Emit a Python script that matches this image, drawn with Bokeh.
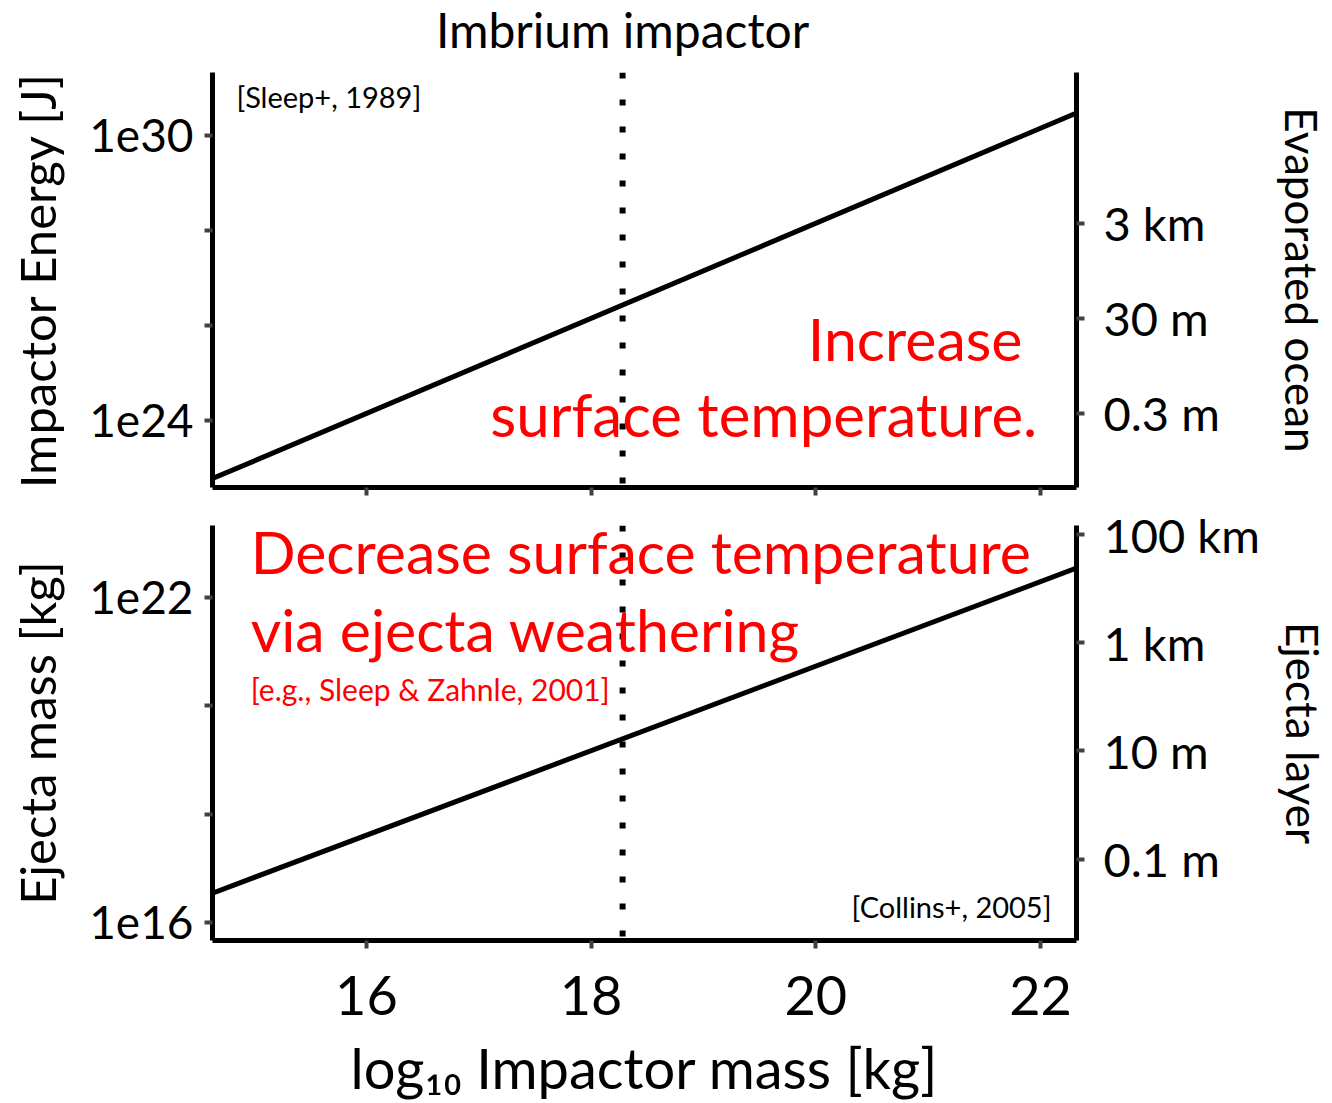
from bokeh.plotting import figure
from bokeh.layouts import column
from bokeh.models import (Range1d, LogAxis, LogScale, FixedTicker,
                          CustomJSTickFormatter, Label, Span)
from bokeh.embed import file_html
from bokeh.resources import INLINE

# ---- data ----
log_impactor_mass = [14.63, 22.32]          # log10 kg (line end points)
impactor_energy_J = [6.0e22, 3.0e30]        # Sleep+ 1989
ejecta_mass_kg = [3.5e16, 3.5e22]           # Collins+ 2005
imbrium_log_mass = 18.28

x_ticks = [16, 18, 20, 22]
energy_labelled = [1e24, 1e30]
energy_unlabelled = [1e26, 1e28]
ocean_ticks_m = [0.3, 30, 3000]
ejecta_labelled = [1e16, 1e22]
ejecta_unlabelled = [1e18, 1e20]
layer_ticks_m = [0.1, 10, 1000, 100000]

J_per_m_ocean = 10 ** 24.68     # energy per metre of evaporated ocean
kg_per_m_layer = 10 ** 18.17    # ejecta mass per metre of global layer

x_lim = (14.63, 22.32)
energy_lim = (10 ** 22.59, 10 ** 31.33)
ejecta_lim = (10 ** 15.67, 10 ** 23.33)

FONT = "Lato"
RED = "#ff0000"


def style_axis(ax, tick_size="46px", label_size="49px"):
    ax.axis_line_width = 5
    ax.axis_line_color = "black"
    for kind in ("major", "minor"):
        setattr(ax, kind + "_tick_line_color", "#404040")
        setattr(ax, kind + "_tick_line_width", 4)
        setattr(ax, kind + "_tick_out", 8)
        setattr(ax, kind + "_tick_in", 0)
    ax.major_label_text_font = FONT
    ax.major_label_text_font_size = tick_size
    ax.major_label_text_color = "black"
    ax.axis_label_text_font = FONT
    ax.axis_label_text_font_size = label_size
    ax.axis_label_text_font_style = "normal"
    ax.axis_label_text_color = "black"


exp_formatter = CustomJSTickFormatter(
    code="return '1e' + Math.round(Math.log10(tick));")
depth_formatter = CustomJSTickFormatter(
    code="return tick >= 1000 ? (tick / 1000) + ' km' : tick + ' m';")


def make_panel(y_lim, min_top, min_bottom, frame_h=415, log=True, axes=True):
    kw = dict(y_axis_type="log") if log else {}
    if not axes:
        kw.update(x_axis_location=None, y_axis_location=None)
    p = figure(frame_width=864, frame_height=frame_h,
               x_range=Range1d(*x_lim), y_range=Range1d(*y_lim),
               output_backend="svg", toolbar_location=None,
               min_border_left=212, min_border_right=256,
               min_border_top=min_top, min_border_bottom=min_bottom, **kw)
    p.outline_line_color = None
    p.grid.visible = False
    p.background_fill_color = "white"
    p.border_fill_color = "white"
    return p


# ---------------- title strip ----------------
pt = make_panel((0, 1), 0, 0, frame_h=72, log=False, axes=False)
pt.add_layout(Label(x=imbrium_log_mass, y=0.60, text="Imbrium impactor",
                    text_align="center", text_baseline="middle",
                    text_font=FONT, text_font_size="48px", text_color="black"))

# ---------------- top panel ----------------
p1 = make_panel(energy_lim, 0, 19)
p1.line(log_impactor_mass, impactor_energy_J, line_color="black", line_width=5)
ax = p1.xaxis[0]
ax.ticker = FixedTicker(ticks=[], minor_ticks=x_ticks)
style_axis(ax)
ay = p1.yaxis[0]
ay.ticker = FixedTicker(ticks=energy_labelled, minor_ticks=energy_unlabelled)
ay.formatter = exp_formatter
ay.axis_label = "Impactor Energy [J]"
style_axis(ay)
ay.major_label_standoff = 11
ay.axis_label_standoff = 20

p1.extra_y_ranges = {"ocean": Range1d(energy_lim[0] / J_per_m_ocean,
                                       energy_lim[1] / J_per_m_ocean)}
p1.extra_y_scales = {"ocean": LogScale()}
ar = LogAxis(y_range_name="ocean", ticker=FixedTicker(ticks=ocean_ticks_m),
             formatter=depth_formatter, axis_label="Evaporated ocean")
style_axis(ar, tick_size="47px", label_size="44px")
ar.major_label_standoff = 19
ar.axis_label_standoff = 53
p1.add_layout(ar, "right")

p1.add_layout(Span(location=imbrium_log_mass, dimension="height",
                   line_color="black", line_width=6, line_dash="6 21"))

p1.add_layout(Label(x=14.844, y=10 ** 30.82, text="[Sleep+, 1989]",
                    text_align="left", text_baseline="alphabetic",
                    text_font=FONT, text_font_size="29px", text_color="black"))
p1.add_layout(Label(x=19.929, y=10 ** 25.726, text="Increase",
                    text_align="left", text_baseline="alphabetic",
                    text_font=FONT, text_font_size="59px", text_color=RED))
p1.add_layout(Label(x=17.102, y=10 ** 24.147, text="surface temperature.",
                    text_align="left", text_baseline="alphabetic",
                    text_font=FONT, text_font_size="60px", text_color=RED))

# ---------------- bottom panel ----------------
p2 = make_panel(ejecta_lim, 19, 163)
p2.line(log_impactor_mass, ejecta_mass_kg, line_color="black", line_width=5)
bx = p2.xaxis[0]
bx.ticker = FixedTicker(ticks=x_ticks)
bx.axis_label = "log₁₀ Impactor mass [kg]"
style_axis(bx, tick_size="54px", label_size="56px")
bx.major_label_standoff = 27
bx.axis_label_standoff = 16
by = p2.yaxis[0]
by.ticker = FixedTicker(ticks=ejecta_labelled, minor_ticks=ejecta_unlabelled)
by.formatter = exp_formatter
by.axis_label = "Ejecta mass [kg]"
style_axis(by)
by.major_label_standoff = 11
by.axis_label_standoff = 20

p2.extra_y_ranges = {"layer": Range1d(ejecta_lim[0] / kg_per_m_layer,
                                       ejecta_lim[1] / kg_per_m_layer)}
p2.extra_y_scales = {"layer": LogScale()}
br = LogAxis(y_range_name="layer", ticker=FixedTicker(ticks=layer_ticks_m),
             formatter=depth_formatter, axis_label="Ejecta layer")
style_axis(br, tick_size="47px", label_size="44px")
br.major_label_standoff = 19
br.axis_label_standoff = 14
p2.add_layout(br, "right")

p2.add_layout(Span(location=imbrium_log_mass, dimension="height",
                   line_color="black", line_width=6, line_dash="6 21"))

p2.add_layout(Label(x=14.97, y=10 ** 22.85, text="Decrease surface temperature",
                    text_align="left", text_baseline="alphabetic",
                    text_font=FONT, text_font_size="59px", text_color=RED))
p2.add_layout(Label(x=14.97, y=10 ** 21.41, text="via ejecta weathering",
                    text_align="left", text_baseline="alphabetic",
                    text_font=FONT, text_font_size="59px", text_color=RED))
p2.add_layout(Label(x=14.97, y=10 ** 20.315, text="[e.g., Sleep & Zahnle, 2001]",
                    text_align="left", text_baseline="alphabetic",
                    text_font=FONT, text_font_size="30px", text_color=RED))
p2.add_layout(Label(x=22.098, y=10 ** 16.30, text="[Collins+, 2005]",
                    text_align="right", text_baseline="alphabetic",
                    text_font=FONT, text_font_size="29px", text_color="black"))

layout = column(pt, p1, p2, spacing=0)
open("out.html", "w").write(file_html(layout, INLINE))
